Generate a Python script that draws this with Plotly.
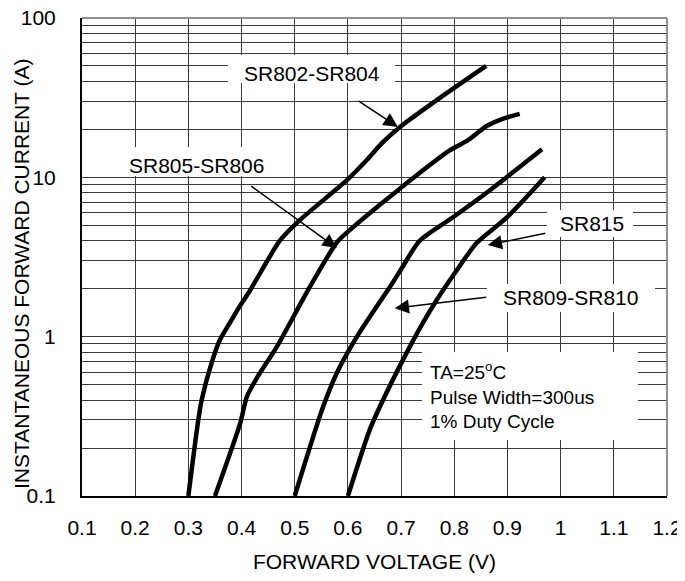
import math
import plotly.graph_objects as go

# ---- data ----
v_sr802 = [0.300, 0.318, 0.325, 0.344, 0.359, 0.378, 0.397, 0.416, 0.472, 0.510, 0.598, 0.636, 0.664, 0.698, 0.773, 0.860]
i_sr802 = [0.10, 0.29, 0.40, 0.69, 0.95, 1.22, 1.56, 1.95, 4.0, 5.4, 9.6, 12.9, 16.4, 20.7, 31.5, 50.0]

v_sr805 = [0.350, 0.398, 0.410, 0.430, 0.466, 0.525, 0.579, 0.598, 0.690, 0.792, 0.826, 0.861, 0.895, 0.923]
i_sr805 = [0.10, 0.29, 0.42, 0.56, 0.86, 1.96, 3.9, 4.5, 8.1, 14.8, 17.1, 21.0, 23.5, 25.0]

v_sr809 = [0.500, 0.553, 0.579, 0.617, 0.666, 0.679, 0.703, 0.735, 0.797, 0.867, 0.965]
i_sr809 = [0.10, 0.36, 0.59, 1.0, 1.77, 2.05, 2.75, 4.0, 5.6, 8.3, 15.0]

v_sr815 = [0.600, 0.641, 0.666, 0.703, 0.741, 0.767, 0.805, 0.842, 0.899, 0.970]
i_sr815 = [0.10, 0.26, 0.40, 0.71, 1.22, 1.70, 2.62, 3.87, 5.6, 10.0]

x_ticks = [0.1, 0.2, 0.3, 0.4, 0.5, 0.6, 0.7, 0.8, 0.9, 1.0, 1.1, 1.2]
x_ticklabels = ["0.1", "0.2", "0.3", "0.4", "0.5", "0.6", "0.7", "0.8", "0.9", "1", "1.1", "1.2"]
y_decades = [0.1, 1, 10, 100]
y_ticklabels = ["0.1", "1", "10", "100"]

series_labels = ["SR802-SR804", "SR805-SR806", "SR809-SR810", "SR815"]
condition_text = "TA=25<sup>o</sup>C<br>Pulse Width=300us<br>1% Duty Cycle"

# ---- layout geometry (page body has an 8px margin) ----
OFF = 8
W, H = 685 - OFF, 581 - OFF
L, R, T, B = 82 - OFF, 18, 18 - OFF, 85
PX0, PY1 = 82, 496            # plot area in window pixels
PW, PH = W - L - R, H - T - B


def px(xp):
    return (xp - PX0) / PW


def py(yp):
    return (PY1 - yp) / PH


FONT = "Liberation Sans, Arial, sans-serif"
FS = 21

# grid tick values: every 1..9 per decade
y_grid = []
for d in y_decades[:-1]:
    for k in range(1, 10):
        y_grid.append(round(d * k, 6))
y_grid.append(100)
y_gridtext = [y_ticklabels[y_decades.index(v)] if v in y_decades else "" for v in y_grid]

fig = go.Figure()
for vx, iy in [(v_sr802, i_sr802), (v_sr805, i_sr805), (v_sr809, i_sr809), (v_sr815, i_sr815)]:
    fig.add_trace(go.Scatter(x=vx, y=iy, mode="lines",
                             line=dict(color="black", width=4.5, shape="spline", smoothing=0.7),
                             showlegend=False, hoverinfo="skip"))

# white label boxes (cut gridlines)
boxes = [(228, 55, 395, 83), (115, 147, 282, 176), (547, 210, 633, 237),
         (487, 284, 655, 312), (422, 352, 638, 440)]
shapes = []
for x0, y0, x1, y1 in boxes:
    shapes.append(dict(type="rect", xref="paper", yref="paper",
                       x0=px(x0), x1=px(x1), y0=py(y1), y1=py(y0),
                       fillcolor="white", line=dict(width=0), layer="above"))
# top and right frame in gray
shapes.append(dict(type="line", xref="paper", yref="paper", x0=0, x1=1, y0=1, y1=1,
                   line=dict(color="#909090", width=2), layer="above"))
shapes.append(dict(type="line", xref="paper", yref="paper", x0=1, x1=1, y0=0, y1=1,
                   line=dict(color="#909090", width=2), layer="above"))

annotations = []
# label texts (window positions of centers)
label_pos = [(312, 73), (196, 165), (570, 297), (592, 224)]
for txt, (xx, yy) in zip(series_labels, label_pos):
    annotations.append(dict(text=txt, xref="paper", yref="paper", x=px(xx), y=py(yy),
                            xanchor="center", yanchor="middle", showarrow=False,
                            font=dict(family=FONT, size=FS, color="black")))
annotations.append(dict(text=condition_text, xref="paper", yref="paper", x=px(428), y=py(395),
                        xanchor="left", yanchor="middle", align="left", showarrow=False,
                        font=dict(family=FONT, size=19, color="black")))

# arrows: tip in data coords (V, A), tail offset in pixels
arrows = [(0.694, 20.7, -41, -27), (0.579, 3.6, -87, -63),
          (0.688, 1.51, 93, -11), (0.863, 3.76, 59, -12)]
for xt, yt, axo, ayo in arrows:
    annotations.append(dict(text=" ", x=xt, y=math.log10(yt), xref="x", yref="y",
                            ax=axo, ay=ayo, axref="pixel", ayref="pixel",
                            showarrow=True, arrowhead=2, arrowsize=1.9, arrowwidth=1.5,
                            arrowcolor="black", font=dict(size=1)))

annotations.append(dict(text="INSTANTANEOUS FORWARD CURRENT (A)", xref="paper", yref="paper",
                        x=px(21), y=py(274), textangle=-90, showarrow=False,
                        xanchor="center", yanchor="middle",
                        font=dict(family=FONT, size=FS, color="black")))

fig.update_layout(
    width=W, height=H,
    margin=dict(l=L, r=R, t=T, b=B, pad=0, autoexpand=False),
    paper_bgcolor="white", plot_bgcolor="white",
    font=dict(family=FONT, size=FS, color="black"),
    shapes=shapes, annotations=annotations,
    xaxis=dict(range=[0.1, 1.2], tickvals=x_ticks, ticktext=x_ticklabels,
               showgrid=True, gridcolor="#3a3a3a", gridwidth=1,
               showline=True, linecolor="black", linewidth=2, zeroline=False,
               ticks="", ticklabelstandoff=12, automargin=False,
               ticklabeloverflow="allow",
               title=dict(text="FORWARD VOLTAGE (V)", standoff=16,
                          font=dict(family=FONT, size=FS, color="black"))),
    yaxis=dict(type="log", range=[-1, 2], tickvals=y_grid, ticktext=y_gridtext,
               showgrid=True, gridcolor="#3a3a3a", gridwidth=1,
               showline=True, linecolor="black", linewidth=2, zeroline=False,
               ticks="", ticklabelstandoff=20, automargin=False,
               ticklabeloverflow="allow"),
)

fig.write_html("out.html")
